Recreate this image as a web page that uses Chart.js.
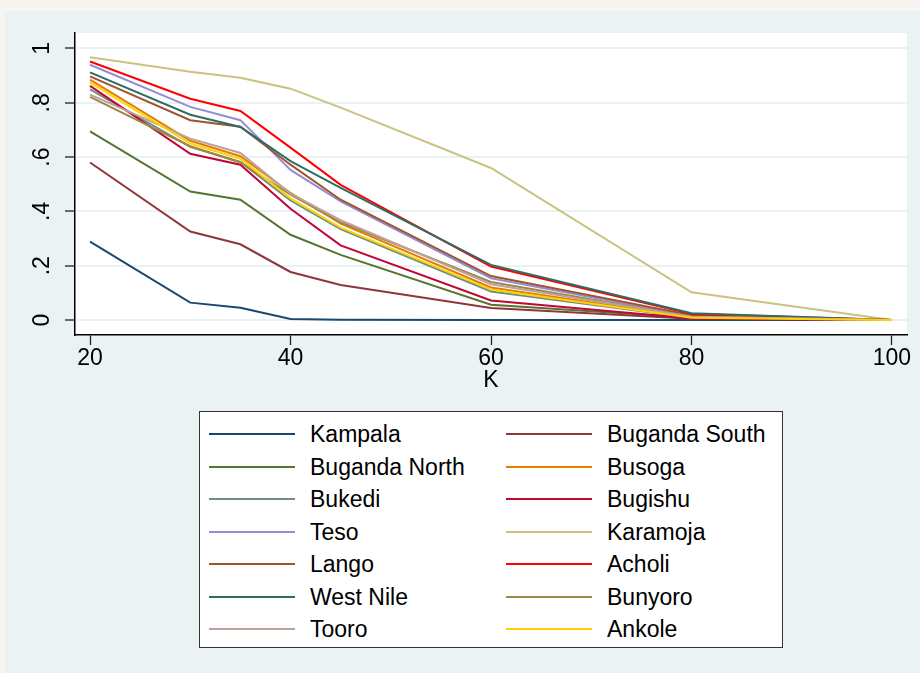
<!DOCTYPE html>
<html>
<head>
<meta charset="utf-8">
<script src="https://cdn.jsdelivr.net/npm/chart.js@4/dist/chart.umd.min.js"></script>
<style>
  html, body { margin: 0; padding: 0; background: #f8f4f0; }
  #wrap { position: relative; width: 920px; height: 673px; }
  canvas { position: absolute; left: 0; top: 0; }
  #legend { position: absolute; left: 199px; top: 411px; width: 582px; height: 235px;
            border: 1px solid #333; background: #fff; font-family: "Liberation Sans", Arial, sans-serif; font-size: 23px; color: #000; }
  .item { position: absolute; left: 0; height: 28px; line-height: 28px; white-space: nowrap; }
  .swatch { position: absolute; top: 13px; width: 86px; height: 2px; }
  .lbl { position: absolute; top: 0; }
</style>
</head>
<body>
<div id="wrap">
  <canvas id="c" width="920" height="673"></canvas>
  <div id="legend"></div>
</div>
<script>
const kValues = [20, 30, 35, 40, 45, 60, 80, 100];
const regions = ["Kampala", "Buganda South", "Buganda North", "Busoga", "Bukedi", "Bugishu", "Teso",
                 "Karamoja", "Lango", "Acholi", "West Nile", "Bunyoro", "Tooro", "Ankole"];
const kampala      = [0.289, 0.064, 0.045, 0.004, 0.001, 0.000, 0.000, 0];
const bugandaSouth = [0.580, 0.326, 0.279, 0.177, 0.129, 0.044, 0.005, 0];
const bugandaNorth = [0.695, 0.473, 0.443, 0.314, 0.240, 0.056, 0.008, 0];
const busoga       = [0.885, 0.660, 0.603, 0.468, 0.355, 0.120, 0.010, 0];
const bukedi       = [0.849, 0.638, 0.582, 0.440, 0.335, 0.105, 0.008, 0];
const bugishu      = [0.862, 0.612, 0.572, 0.410, 0.275, 0.072, 0.006, 0];
const teso         = [0.940, 0.785, 0.736, 0.553, 0.437, 0.154, 0.015, 0];
const karamoja     = [0.968, 0.914, 0.892, 0.852, 0.782, 0.560, 0.102, 0];
const lango        = [0.897, 0.736, 0.712, 0.572, 0.443, 0.162, 0.018, 0];
const acholi       = [0.952, 0.815, 0.770, 0.635, 0.498, 0.197, 0.022, 0];
const westNile     = [0.912, 0.756, 0.711, 0.585, 0.487, 0.203, 0.025, 0];
const bunyoro      = [0.822, 0.640, 0.580, 0.462, 0.360, 0.140, 0.012, 0];
const tooro        = [0.830, 0.668, 0.615, 0.465, 0.368, 0.132, 0.012, 0];
const ankole       = [0.875, 0.650, 0.594, 0.448, 0.340, 0.112, 0.008, 0];
const seriesValues = [kampala, bugandaSouth, bugandaNorth, busoga, bukedi, bugishu, teso,
                      karamoja, lango, acholi, westNile, bunyoro, tooro, ankole];
const colors = ["#1a476f", "#90353b", "#55752f", "#e37e00", "#6e8e84", "#c10534", "#938dd2",
                "#cac27e", "#a0522d", "#ff0000", "#2d6d66", "#9c8847", "#bfa19c", "#ffd200"];
const xTicks = [20, 40, 60, 80, 100];
const yTicks = [0, 0.2, 0.4, 0.6, 0.8, 1];
const yTickLabels = ["0", ".2", ".4", ".6", ".8", "1"];
const xTitle = "K";

const FONT = '"Liberation Sans", Arial, sans-serif';
const n = regions.length;
const datasets = regions.map((name, i) => ({
  label: name,
  data: kValues.map((k, j) => ({ x: k, y: seriesValues[i][j] })),
  borderColor: colors[i],
  backgroundColor: colors[i],
  borderWidth: 2,
  pointRadius: 0,
  tension: 0,
  fill: false,
  order: n - 1 - i
}));

const bgPlugin = {
  id: 'bg',
  beforeDraw(chart) {
    const ctx = chart.ctx, a = chart.chartArea;
    ctx.save();
    ctx.fillStyle = '#f8f4f0';
    ctx.fillRect(0, 0, chart.width, chart.height);
    ctx.fillStyle = '#eaf2f3';
    ctx.fillRect(5, 11, chart.width - 5, chart.height - 11);
    ctx.fillStyle = '#ffffff';
    ctx.fillRect(a.left, a.top, a.right - a.left, a.bottom - a.top);
    ctx.restore();
  },
  afterDraw(chart) {
    const ctx = chart.ctx, ys = chart.scales.y;
    ctx.save();
    ctx.fillStyle = '#000';
    ctx.font = '23px ' + FONT;
    ctx.textAlign = 'center';
    ctx.textBaseline = 'middle';
    yTicks.forEach((v, i) => {
      const py = ys.getPixelForValue(v);
      ctx.save();
      ctx.translate(43, py);
      ctx.rotate(-Math.PI / 2);
      ctx.fillText(yTickLabels[i], 0, 0);
      ctx.restore();
    });
    ctx.restore();
  }
};

new Chart(document.getElementById('c'), {
  type: 'line',
  data: { datasets },
  plugins: [bgPlugin],
  options: {
    responsive: false,
    animation: false,
    events: [],
    layout: { padding: { left: 0, right: 13, top: 33, bottom: 275 } },
    plugins: { legend: { display: false }, tooltip: { enabled: false } },
    scales: {
      x: {
        type: 'linear',
        min: 18.5,
        max: 101.5,
        afterBuildTicks(s) { s.ticks = xTicks.map(v => ({ value: v })); },
        afterFit(s) { s.height = 63; },
        ticks: { color: '#000', font: { size: 23, family: FONT }, padding: 0, maxRotation: 0, autoSkip: false },
        grid: { drawOnChartArea: false, drawTicks: true, tickLength: 10, tickColor: '#222', tickWidth: 1.3 },
        border: { color: '#000', width: 1.5 },
        title: { display: true, text: xTitle, color: '#000', font: { size: 23, family: FONT }, padding: { top: 0, bottom: 4 } }
      },
      y: {
        type: 'linear',
        min: -0.0552,
        max: 1.057,
        afterBuildTicks(s) { s.ticks = yTicks.map(v => ({ value: v })); },
        afterFit(s) { s.width = 75; },
        ticks: { display: false },
        grid: { color: '#eaf2f3', lineWidth: 2, drawTicks: true, tickLength: 10, tickColor: '#222', tickWidth: 1.3 },
        border: { color: '#000', width: 1.5 }
      }
    }
  }
});

// HTML legend in two columns (row-major order), built from the same arrays
const legend = document.getElementById('legend');
regions.forEach((name, i) => {
  const col = i % 2, row = Math.floor(i / 2);
  const item = document.createElement('div');
  item.className = 'item';
  item.style.top = (8 + row * 32.5) + 'px';
  const sw = document.createElement('div');
  sw.className = 'swatch';
  sw.style.left = (col === 0 ? 9 : 306) + 'px';
  sw.style.background = colors[i];
  const lb = document.createElement('div');
  lb.className = 'lbl';
  lb.style.left = (col === 0 ? 110 : 407) + 'px';
  lb.textContent = name;
  item.appendChild(sw);
  item.appendChild(lb);
  legend.appendChild(item);
});
</script>
</body>
</html>
